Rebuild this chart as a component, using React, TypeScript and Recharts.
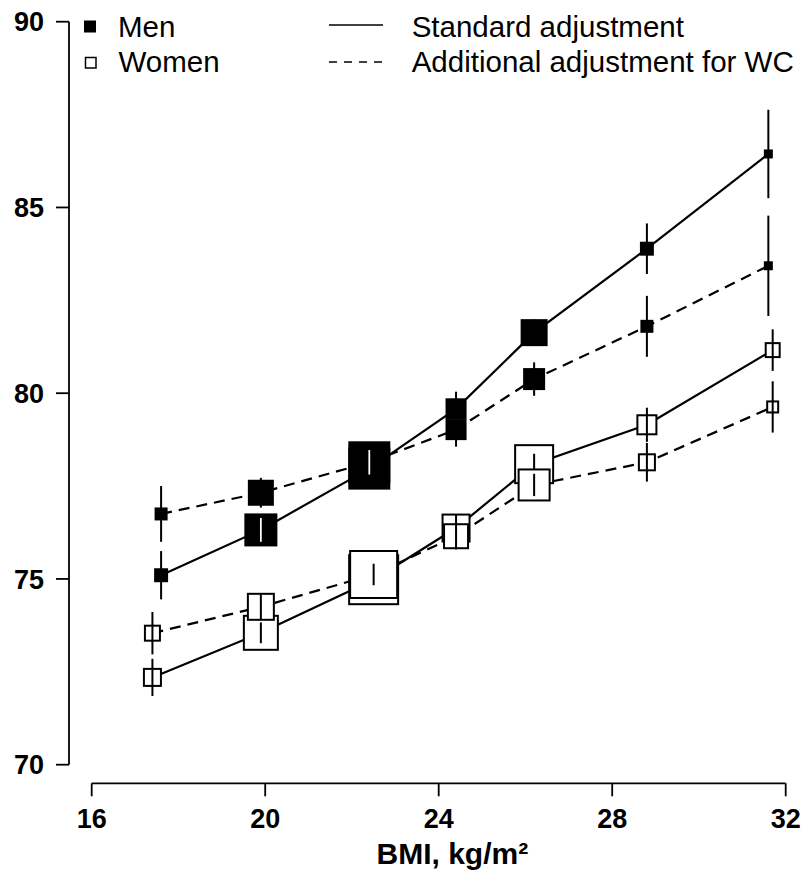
import React from 'react';
import {
  ScatterChart,
  Scatter,
  XAxis,
  YAxis,
  ZAxis,
  ErrorBar,
  Label,
  Legend,
} from 'recharts';

// BMI category midpoints
const menBmi = [17.6, 19.9, 22.4, 24.4, 26.2, 28.8, 31.6];
const womenBmi = [17.4, 19.9, 22.5, 24.4, 26.2, 28.8, 31.7];

// outcome (y) with half-width of the CI, and marker weight (relative)
const menStd = [75.1, 76.32, 77.97, 79.58, 81.63, 83.89, 86.44];
const menStdErr = [0.65, 0.32, 0.33, 0.46, 0.35, 0.68, 1.19];
const menStdWeight = [7.5, 41.9, 67.8, 17.0, 28.0, 7.5, 3.1];

const menWc = [76.75, 77.32, 78.14, 79.02, 80.38, 81.8, 83.43];
const menWcErr = [0.75, 0.4, 0.33, 0.46, 0.45, 0.82, 1.35];
const menWcWeight = [6.5, 26.0, 67.8, 17.0, 18.6, 6.5, 3.1];

const womenStd = [72.35, 73.55, 74.98, 76.37, 78.09, 79.15, 81.16];
const womenStdErr = [0.5, 0.28, 0.3, 0.35, 0.28, 0.46, 0.56];
const womenStdWeight = [13.9, 49.8, 100, 32.3, 61.5, 17.0, 9.8];

const womenWc = [73.54, 74.25, 75.12, 76.15, 77.53, 78.14, 79.63];
const womenWcErr = [0.57, 0.33, 0.29, 0.35, 0.3, 0.52, 0.69];
const womenWcWeight = [11.1, 30.1, 92.3, 26.0, 41.9, 12.5, 6.5];

const xTicks = [16, 20, 24, 28, 32];
const yTicks = [70, 75, 80, 85, 90];

const groupLabels = ['Men', 'Women'];
const styleLabels = ['Standard adjustment', 'Additional adjustment for WC'];

// layout
const W = 804;
const H = 881;
const PLOT_LEFT = 69;
const PLOT_RIGHT = 785.7;
const PLOT_TOP = 21.7;
const PLOT_BOTTOM = 783.3;
const PAD_X = 22.7;
const PAD_Y = 18.6;
const Y_SPAN = PLOT_BOTTOM - PAD_Y - PLOT_TOP;
const PX_PER_UNIT = Y_SPAN / (yTicks[yTicks.length - 1] - yTicks[0]);
const MAX_SIDE = 51;
const MAX_AREA = (Math.PI * MAX_SIDE * MAX_SIDE) / 4;
const FONT = '"Liberation Sans", Arial, Helvetica, sans-serif';

const build = (xs: number[], ys: number[], errs: number[], ws: number[]) =>
  xs.map((x, i) => ({ x, y: ys[i], err: errs[i], w: ws[i] }));

const menStdData = build(menBmi, menStd, menStdErr, menStdWeight);
const menWcData = build(menBmi, menWc, menWcErr, menWcWeight);
const womenStdData = build(womenBmi, womenStd, womenStdErr, womenStdWeight);
const womenWcData = build(womenBmi, womenWc, womenWcErr, womenWcWeight);

const Square = (props: any) => {
  const { cx, cy, width, payload, filled } = props;
  if (cx == null || cy == null) return null;
  const half = width / 2;
  const errPx = payload.err * PX_PER_UNIT;
  let inner = null;
  if (!filled) {
    const e = Math.min(errPx, half);
    inner = <line x1={cx} x2={cx} y1={cy - e} y2={cy + e} stroke="#000" strokeWidth={2} />;
  } else if (errPx < half - 1) {
    // CI that fits inside a filled marker shows up as a white stroke
    inner = <line x1={cx} x2={cx} y1={cy - errPx} y2={cy + errPx} stroke="#fff" strokeWidth={1.8} />;
  }
  return (
    <g>
      <rect
        x={filled ? cx - half : cx - half + 1}
        y={filled ? cy - half : cy - half + 1}
        width={filled ? width : width - 2}
        height={filled ? width : width - 2}
        fill={filled ? '#000' : '#fff'}
        stroke="#000"
        strokeWidth={filled ? 0 : 2}
      />
      {inner}
    </g>
  );
};

const solid = { stroke: '#000', strokeWidth: 2.2 };
const dashed = { stroke: '#000', strokeWidth: 2.2, strokeDasharray: '11 7' };

const LegendBox = () => (
  <svg width={W} height={90} style={{ fontFamily: FONT }}>
    <rect x={84} y={20.5} width={12} height={12} fill="#000" />
    <text x={118} y={36.7} fontSize={29.5} fill="#000">{groupLabels[0]}</text>
    <rect x={85.5} y={57.5} width={10.5} height={10.5} fill="#fff" stroke="#000" strokeWidth={1.5} />
    <text x={118.5} y={71.7} fontSize={29.5} fill="#000">{groupLabels[1]}</text>
    <line x1={329} x2={383} y1={25} y2={25} stroke="#000" strokeWidth={1.5} />
    <text x={411.7} y={37} fontSize={29.5} fill="#000">{styleLabels[0]}</text>
    <line x1={329} x2={383} y1={62} y2={62} stroke="#000" strokeWidth={1.5} strokeDasharray="8 7" />
    <text x={411.7} y={72} fontSize={29.5} fill="#000">{styleLabels[1]}</text>
  </svg>
);

const tickStyle = { fontSize: 27, fontWeight: 'bold', fill: '#000', fontFamily: FONT };

export default function App() {
  return (
    <div style={{ position: 'absolute', left: 0, top: 0, width: W, height: H, background: '#fff' }}>
      <ScatterChart
        width={W}
        height={H}
        margin={{ top: PLOT_TOP, right: W - PLOT_RIGHT, bottom: 0, left: 0 }}
        style={{ fontFamily: FONT }}
      >
        <XAxis
          type="number"
          dataKey="x"
          domain={[16, 32]}
          ticks={xTicks}
          padding={{ left: PAD_X, right: 0 }}
          height={H - PLOT_BOTTOM}
          tickSize={13}
          tickMargin={13}
          tick={tickStyle}
          tickLine={{ stroke: '#000', strokeWidth: 1.8 }}
          axisLine={{
            stroke: '#000',
            strokeWidth: 1.8,
            strokeDasharray: `0 ${PAD_X} ${PLOT_RIGHT - PLOT_LEFT - PAD_X} 2000`,
          }}
        >
          <Label
            value="BMI, kg/m²"
            position="insideBottom"
            offset={17}
            dx={25}
            fontSize={30}
            fontWeight="bold"
            fill="#000"
          />
        </XAxis>
        <YAxis
          type="number"
          dataKey="y"
          domain={[70, 90]}
          ticks={yTicks}
          padding={{ top: 0, bottom: PAD_Y }}
          width={PLOT_LEFT}
          tickSize={13}
          tickMargin={12}
          tick={tickStyle}
          tickLine={{ stroke: '#000', strokeWidth: 1.8 }}
          axisLine={{ stroke: '#000', strokeWidth: 1.8, strokeDasharray: `${Y_SPAN} 2000` }}
        />
        <ZAxis type="number" dataKey="w" domain={[0, 100]} range={[0, MAX_AREA]} />
        <Legend
          layout="horizontal"
          verticalAlign="middle"
          align="center"
          wrapperStyle={{ position: 'absolute', top: 0, left: 0, width: W, height: 90 }}
          content={() => <LegendBox />}
        />
        <Scatter
          data={menStdData}
          line={solid}
          shape={(p: any) => <Square {...p} filled />}
          isAnimationActive={false}
        >
          <ErrorBar dataKey="err" direction="y" width={0} stroke="#000" strokeWidth={2} isAnimationActive={false} />
        </Scatter>
        <Scatter
          data={menWcData}
          line={dashed}
          shape={(p: any) => <Square {...p} filled />}
          isAnimationActive={false}
        >
          <ErrorBar dataKey="err" direction="y" width={0} stroke="#000" strokeWidth={2} isAnimationActive={false} />
        </Scatter>
        <Scatter
          data={womenStdData}
          line={solid}
          shape={(p: any) => <Square {...p} filled={false} />}
          isAnimationActive={false}
        >
          <ErrorBar dataKey="err" direction="y" width={0} stroke="#000" strokeWidth={2} isAnimationActive={false} />
        </Scatter>
        <Scatter
          data={womenWcData}
          line={dashed}
          shape={(p: any) => <Square {...p} filled={false} />}
          isAnimationActive={false}
        >
          <ErrorBar dataKey="err" direction="y" width={0} stroke="#000" strokeWidth={2} isAnimationActive={false} />
        </Scatter>
      </ScatterChart>
    </div>
  );
}
